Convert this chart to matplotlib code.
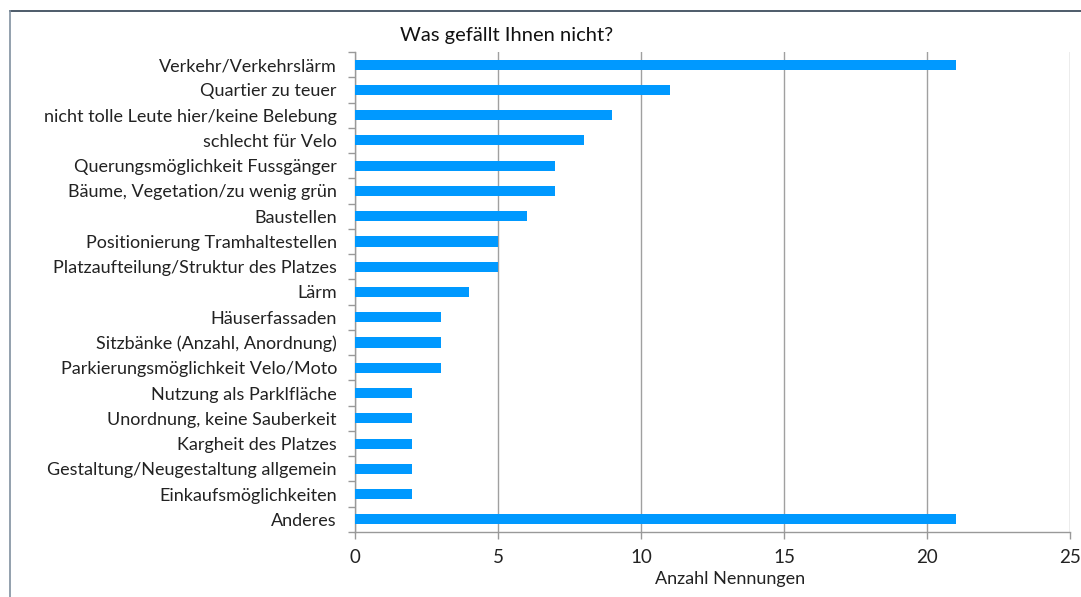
import matplotlib
matplotlib.use("Agg")
import matplotlib.pyplot as plt
from matplotlib.lines import Line2D
import numpy as np

plt.rcParams['font.family'] = ['Lato', 'DejaVu Sans']

categories = [
    "Verkehr/Verkehrslärm",
    "Quartier zu teuer",
    "nicht tolle Leute hier/keine Belebung",
    "schlecht für Velo",
    "Querungsmöglichkeit Fussgänger",
    "Bäume, Vegetation/zu wenig grün",
    "Baustellen",
    "Positionierung Tramhaltestellen",
    "Platzaufteilung/Struktur des Platzes",
    "Lärm",
    "Häuserfassaden",
    "Sitzbänke (Anzahl, Anordnung)",
    "Parkierungsmöglichkeit Velo/Moto",
    "Nutzung als Parklfläche",
    "Unordnung, keine Sauberkeit",
    "Kargheit des Platzes",
    "Gestaltung/Neugestaltung allgemein",
    "Einkaufsmöglichkeiten",
    "Anderes",
]
values = [21, 11, 9, 8, 7, 7, 6, 5, 5, 4, 3, 3, 3, 2, 2, 2, 2, 2, 21]
xticks = [0, 5, 10, 15, 20, 25]
title = "Was gefällt Ihnen nicht?"
xlabel = "Anzahl Nennungen"

W, H = 1081, 597
fig = plt.figure(figsize=(W / 100, H / 100), dpi=100)
ax = fig.add_axes([355 / W, 1 - 532 / H, (1070 - 355) / W, (532 - 52) / H])

y = np.arange(len(categories))
ax.barh(y, values, height=0.4, color="#0099FF", zorder=3)
ax.set_ylim(len(categories) - 0.5, -0.5)
ax.set_xlim(0, 25)
ax.set_xticks(xticks)
ax.set_yticks(y)
ax.set_yticklabels(categories, fontsize=13, color="#222222")
ax.set_yticks(np.arange(-0.5, len(categories) + 0.5, 1), minor=True)
ax.tick_params(axis='y', which='major', length=0, pad=13)
ax.tick_params(axis='y', which='minor', length=5, color="#999999", width=1)
ax.tick_params(axis='x', length=5, color="#999999", width=1, labelsize=13.5, labelcolor="#222222", pad=7)
ax.xaxis.grid(True, color="#A0A0A0", linewidth=1, zorder=0)
for s in ['top', 'right']:
    ax.spines[s].set_visible(False)
for s in ['left', 'bottom']:
    ax.spines[s].set_color("#999999")
    ax.spines[s].set_linewidth(1)
ax.set_xlabel(xlabel, fontsize=13, color="#222222")
ax.xaxis.set_label_coords((730 - 355) / (1070 - 355), -(571 - 532) / (532 - 52))
fig.text(507 / W, 1 - 35 / H, title, fontsize=14.5, ha='center', va='center', color="#111111")

# outer frame
fig.add_artist(Line2D([10 / W, 1.0], [1 - 11 / H, 1 - 11 / H], transform=fig.transFigure,
                      color="#2F4050", linewidth=1.2))
fig.add_artist(Line2D([10 / W, 10 / W], [1 - 11 / H, 0], transform=fig.transFigure,
                      color="#8090A0", linewidth=1.2))

fig.savefig("out.png", dpi=100)
